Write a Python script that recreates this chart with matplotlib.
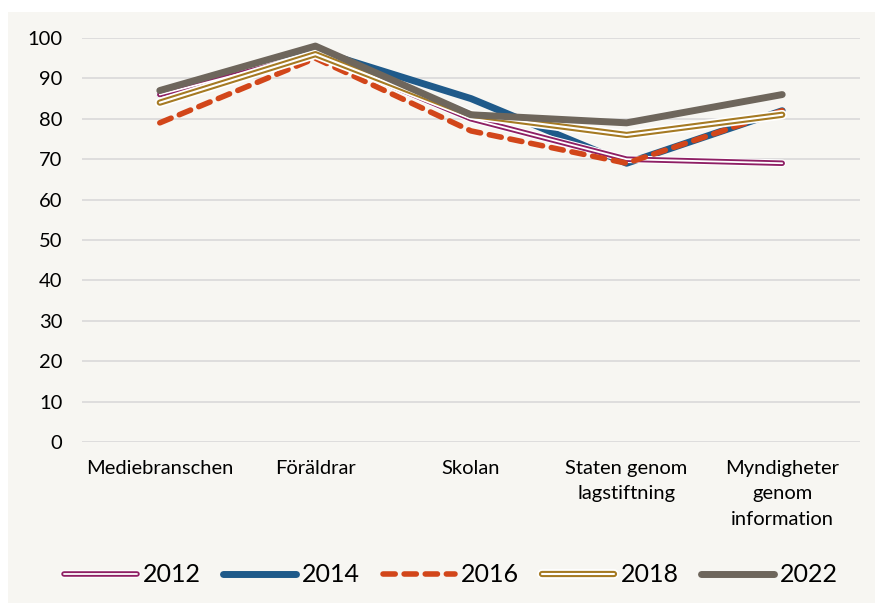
import matplotlib.pyplot as plt
import matplotlib.patches as patches
import matplotlib.patheffects as pe
import numpy as np

# Andel som anser att aktören har ansvar (procent)
categories = ["Mediebranschen", "Föräldrar", "Skolan",
              "Staten genom\nlagstiftning", "Myndigheter\ngenom\ninformation"]
years = ["2012", "2014", "2016", "2018", "2022"]
v2012 = [86, 96, 80, 70, 69]
v2014 = [86, 97, 85, 69, 82]
v2016 = [79, 95, 77, 69, 82]
v2018 = [84, 96, 81, 76, 81]
v2022 = [87, 98, 81, 79, 86]
yticks = list(range(0, 101, 10))

bg = "#F7F6F2"
purple = "#8E1F64"
blue = "#1F5A8A"
orange = "#D2461A"
gold = "#A57A23"
grey = "#6E665C"

plt.rcParams['font.family'] = ['Lato', 'DejaVu Sans']

fig = plt.figure(figsize=(8.75, 6.03), dpi=100)
fig.patch.set_facecolor("white")
fig.patches.append(patches.Rectangle((8 / 875, 0), 1, 1 - 12 / 603,
                                     transform=fig.transFigure,
                                     facecolor=bg, edgecolor="none", zorder=-10))

ax = fig.add_axes([82 / 875, 1 - 442 / 603, (860 - 82) / 875, (442 - 38) / 603])
ax.patch.set_alpha(0)
x = np.arange(len(categories))

# 2012 and 2018 are drawn as double lines: coloured stroke with a white core
l14, = ax.plot(x, v2014, color=blue, lw=5, solid_capstyle="round",
               solid_joinstyle="round", zorder=3)
l12, = ax.plot(x, v2012, color=purple, lw=4, solid_capstyle="round", zorder=4,
               path_effects=[pe.Stroke(linewidth=5.5, foreground="white"), pe.Normal()])
c12, = ax.plot(x, v2012, color="white", lw=1.3, solid_capstyle="round", zorder=4.1)
l16, = ax.plot(x, v2016, color=orange, lw=4, dashes=(2.2, 1.6),
               dash_capstyle="round", zorder=5)
l18, = ax.plot(x, v2018, color=gold, lw=4.5, solid_capstyle="round", zorder=6,
               path_effects=[pe.Stroke(linewidth=7, foreground="white"), pe.Normal()])
c18, = ax.plot(x, v2018, color="white", lw=1.5, solid_capstyle="round", zorder=6.1)
l22, = ax.plot(x, v2022, color=grey, lw=5, solid_capstyle="round",
               solid_joinstyle="round", zorder=7)

ax.set_xlim(-0.5, len(categories) - 0.5)
ax.set_ylim(0, 100)
ax.set_yticks(yticks)
ax.set_xticks(x)
ax.set_xticklabels(categories, fontsize=14.5, linespacing=1.6, va="top")
ax.tick_params(axis="y", labelsize=14.5, length=0, pad=14)
ax.tick_params(axis="x", length=0, pad=13)
ax.grid(axis="y", color="#D9D9D9", lw=1.2, zorder=1)
ax.set_axisbelow(True)
for s in ax.spines.values():
    s.set_visible(False)

handles = [(l12, c12), l14, l16, (l18, c18), l22]
fig.legend(handles, years, loc="center",
           bbox_to_anchor=(451 / 875, 1 - 575 / 603), ncol=5, frameon=False,
           prop={"family": ["Liberation Sans Narrow", "Lato"], "size": 18},
           handlelength=2.9, handletextpad=0.25, columnspacing=0.9)

fig.savefig("out.png", dpi=100, facecolor=fig.get_facecolor())
